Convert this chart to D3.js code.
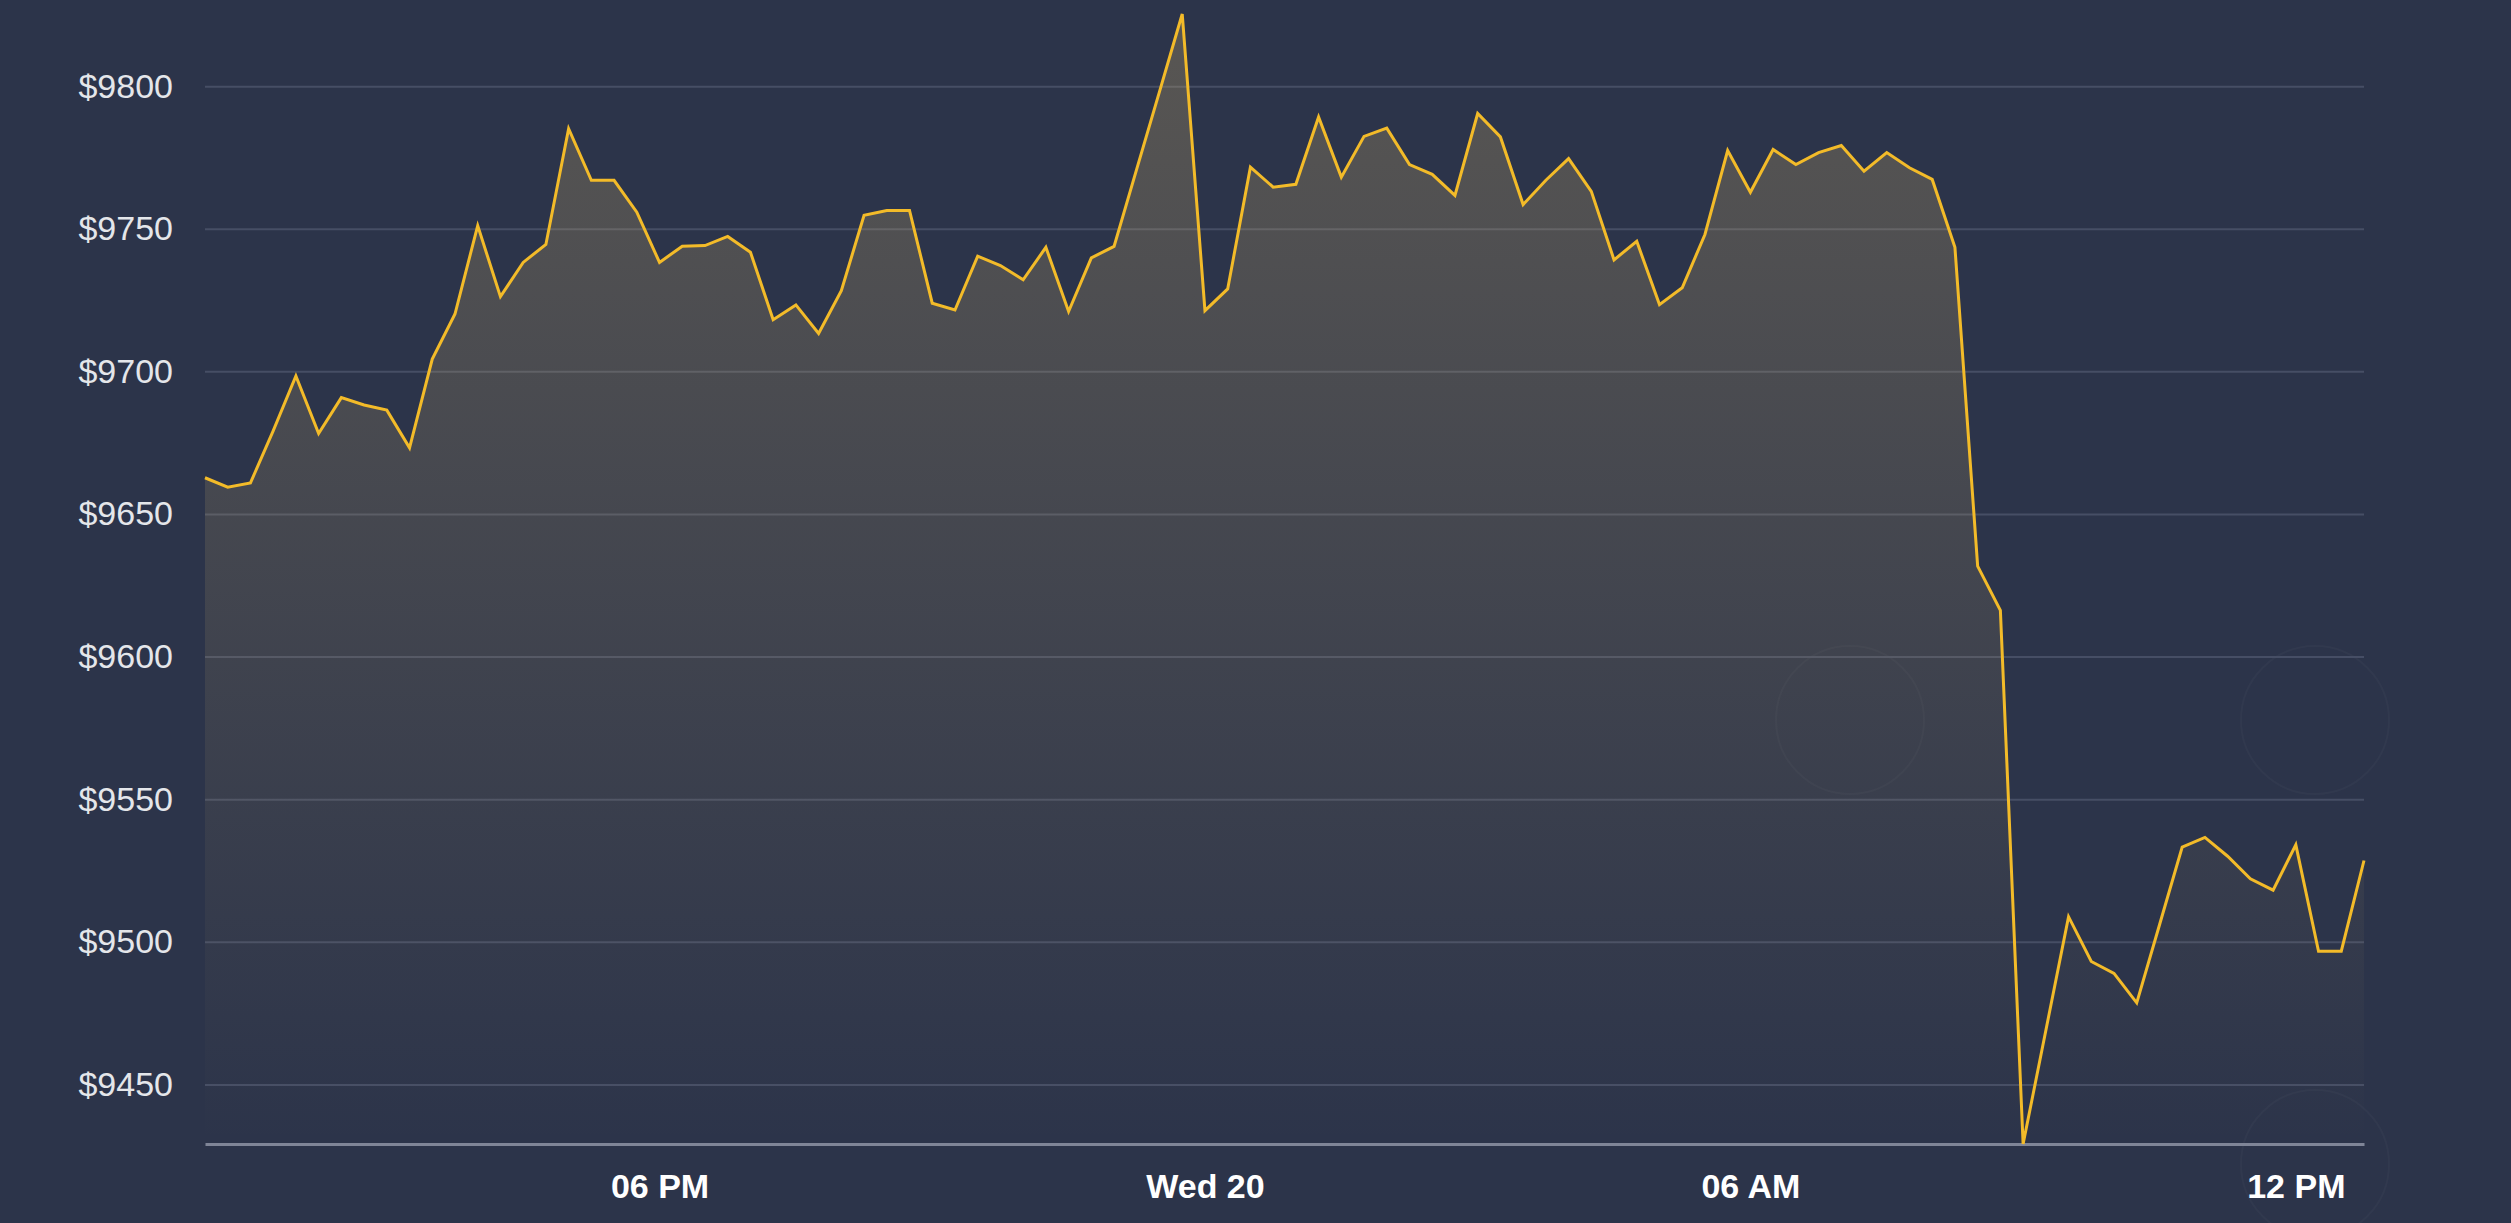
<!DOCTYPE html>
<html>
<head>
<meta charset="utf-8">
<script src="https://cdn.jsdelivr.net/npm/d3@7"></script>
<style>
  html, body { margin: 0; padding: 0; background: #2c344a; }
  svg { display: block; }
</style>
</head>
<body>
<svg id="chart" width="2511" height="1223"></svg>
<script>
// ---- data ----
const startTime = "2020-05-19T13:00:00";   // first sample (Tue 19, 1 PM)
const stepMinutes = 15;                     // sampling interval
const prices = [
  9662.7, 9659.4, 9660.9, 9679.1, 9698.4, 9678.2, 9690.8, 9688.2, 9686.4, 9673.2,
  9704.3, 9720.1, 9751.1, 9726.2, 9738.2, 9744.5, 9785.1, 9767.0, 9767.0, 9755.8,
  9738.2, 9743.9, 9744.1, 9747.3, 9741.8, 9718.1, 9723.3, 9713.3, 9728.3, 9754.7,
  9756.4, 9756.4, 9723.9, 9721.5, 9740.4, 9737.1, 9732.1, 9743.5, 9721.0, 9739.8,
  9743.8, 9771.0, 9798.1, 9825.3, 9721.3, 9728.9, 9771.6, 9764.6, 9765.6, 9789.2,
  9768.1, 9782.4, 9785.3, 9772.5, 9769.1, 9761.7, 9790.4, 9782.2, 9758.5, 9767.0,
  9774.6, 9763.1, 9739.1, 9745.6, 9723.4, 9729.3, 9748.0, 9777.4, 9762.8, 9777.8,
  9772.5, 9776.7, 9779.2, 9770.2, 9776.7, 9771.4, 9767.3, 9743.5, 9631.7, 9616.2,
  9429.1, 9468.9, 9508.8, 9493.1, 9488.9, 9478.6, 9505.9, 9533.2, 9536.6, 9530.0,
  9522.1, 9518.1, 9534.0, 9496.7, 9496.7, 9528.5
];
const yTickValues = [9450, 9500, 9550, 9600, 9650, 9700, 9750, 9800];
const xTickTimes = ["2020-05-19T18:00:00", "2020-05-20T00:00:00", "2020-05-20T06:00:00", "2020-05-20T12:00:00"];
const xTickLabels = ["06 PM", "Wed 20", "06 AM", "12 PM"];

// ---- build ----
const t0 = new Date(startTime);
const data = prices.map((p, i) => ({ t: new Date(t0.getTime() + i * stepMinutes * 60000), v: p }));
const xTicks = xTickTimes.map(s => new Date(s));

const margin = { left: 205, right: 147, top: 14, bottom: 79 };
const W = 2511, H = 1223;
const x0 = margin.left, x1 = W - margin.right, yTop = margin.top, yBot = H - margin.bottom;

const x = d3.scaleTime().domain(d3.extent(data, d => d.t)).range([x0, x1]);
const y = d3.scaleLinear().domain(d3.extent(data, d => d.v)).range([yBot, yTop]);

const svg = d3.select("#chart");
svg.append("rect").attr("width", W).attr("height", H).attr("fill", "#2c344a");

// faint background watermark rings
const deco = svg.append("g").attr("fill", "none").attr("stroke", "#ffffff").attr("stroke-opacity", 0.028).attr("stroke-width", 2);
deco.append("circle").attr("cx", 1850).attr("cy", 720).attr("r", 74);
deco.append("circle").attr("cx", 2315).attr("cy", 720).attr("r", 74);
deco.append("circle").attr("cx", 2315).attr("cy", 1164).attr("r", 74);

const defs = svg.append("defs");
const grad = defs.append("linearGradient")
  .attr("id", "areaGrad").attr("gradientUnits", "userSpaceOnUse")
  .attr("x1", 0).attr("x2", 0).attr("y1", yTop).attr("y2", yBot);
grad.append("stop").attr("offset", "0%").attr("stop-color", "#d2b46c").attr("stop-opacity", 0.27);
grad.append("stop").attr("offset", "100%").attr("stop-color", "#d2b46c").attr("stop-opacity", 0.0);

// grid lines + y labels
const yAxis = d3.axisLeft(y)
  .tickValues(yTickValues)
  .tickSize(-(x1 - x0))
  .tickPadding(32)
  .tickFormat(d => "$" + d);
const gy = svg.append("g").attr("transform", `translate(${x0},0)`).call(yAxis);
gy.select(".domain").remove();
gy.selectAll(".tick line").attr("stroke", "#464e65").attr("stroke-width", 2);
gy.selectAll(".tick text")
  .attr("fill", "#e4e6ea")
  .style("font-family", "'Liberation Sans', Arial, Helvetica, sans-serif")
  .style("font-size", "34px");

// area
const area = d3.area().x(d => x(d.t)).y0(yBot).y1(d => y(d.v)).curve(d3.curveLinear);
svg.append("path").datum(data).attr("d", area).attr("fill", "url(#areaGrad)");

// x axis
const xAxis = d3.axisBottom(x)
  .tickValues(xTicks)
  .tickSize(0)
  .tickPadding(30)
  .tickFormat((d, i) => xTickLabels[i]);
const gx = svg.append("g").attr("transform", `translate(0,${yBot})`).call(xAxis);
gx.select(".domain").attr("stroke", "#7f8597").attr("stroke-width", 3);
gx.selectAll(".tick text")
  .attr("fill", "#ffffff")
  .style("font-family", "'Liberation Sans', Arial, Helvetica, sans-serif")
  .style("font-size", "34px")
  .style("font-weight", "bold");

// line
const line = d3.line().x(d => x(d.t)).y(d => y(d.v)).curve(d3.curveLinear);
svg.append("path").datum(data).attr("d", line)
  .attr("fill", "none").attr("stroke", "#f3bb29").attr("stroke-width", 3)
  .attr("stroke-linejoin", "miter");
</script>
</body>
</html>
